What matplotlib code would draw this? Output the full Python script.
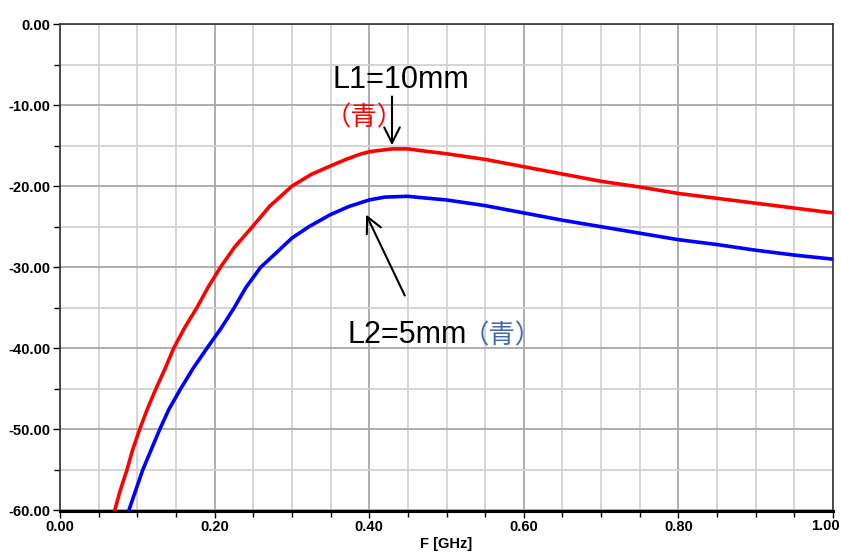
import numpy as np
import matplotlib.pyplot as plt
from matplotlib.ticker import MultipleLocator, FuncFormatter

# S-parameter curves
freq_l1 = [0.0707, 0.078, 0.0866, 0.094, 0.103, 0.113, 0.124, 0.136, 0.147, 0.161,
           0.177, 0.1914, 0.2076, 0.226, 0.249, 0.271, 0.30, 0.325, 0.35, 0.37,
           0.387, 0.40, 0.43, 0.45, 0.4657, 0.50, 0.55, 0.60, 0.65,
           0.70, 0.75, 0.80, 0.85, 0.90, 0.95, 1.00]
db_l1 = [-60, -57.5, -55, -52.5, -50, -47.5, -45, -42.5, -40, -37.5,
         -35, -32.5, -30, -27.5, -25, -22.5, -20.0, -18.55, -17.5, -16.7,
         -16.1, -15.75, -15.4, -15.4, -15.6, -16.0, -16.7, -17.6, -18.5,
         -19.4, -20.1, -20.9, -21.5, -22.1, -22.7, -23.3]

freq_l2 = [0.089, 0.098, 0.107, 0.118, 0.129, 0.141, 0.156, 0.172, 0.19, 0.2086,
           0.2253, 0.2405, 0.2596, 0.28, 0.30, 0.322, 0.35, 0.374, 0.40, 0.42,
           0.45, 0.4657, 0.50, 0.55, 0.60, 0.65,
           0.70, 0.75, 0.80, 0.85, 0.90, 0.95, 1.00]
db_l2 = [-60, -57.5, -55, -52.5, -50, -47.5, -45, -42.5, -40, -37.5,
         -35, -32.5, -30, -28.2, -26.4, -25.0, -23.5, -22.5, -21.7, -21.35,
         -21.25, -21.4, -21.7, -22.4, -23.3, -24.2,
         -25.0, -25.8, -26.6, -27.2, -27.9, -28.5, -29.0]

label_l1 = "L1=10mm"
label_l2 = "L2=5mm"
color_tag = "（青）"

plt.rcParams['font.family'] = ['Liberation Sans', 'Noto Sans CJK JP', 'DejaVu Sans']
tick_font = ['Liberation Sans Narrow', 'Liberation Sans', 'DejaVu Sans']

fig = plt.figure(figsize=(8.41, 5.55), dpi=100)
ax = fig.add_axes([60 / 841, (555 - 510.5) / 555, 773 / 841, 486.5 / 555])

ax.plot(freq_l1, db_l1, color='#ff0000', lw=2.6, solid_joinstyle='round', zorder=3)
ax.plot(freq_l2, db_l2, color='#0000ff', lw=2.6, solid_joinstyle='round', zorder=3)

ax.set_xlim(0, 1.0)
ax.set_ylim(-60, 0)
ax.xaxis.set_major_locator(MultipleLocator(0.2))
ax.xaxis.set_minor_locator(MultipleLocator(0.05))
ax.yaxis.set_major_locator(MultipleLocator(10))
ax.yaxis.set_minor_locator(MultipleLocator(5))
# the 1.00 label is drawn separately, shifted left so it stays inside the figure
ax.xaxis.set_major_formatter(FuncFormatter(lambda v, p: '' if v > 0.99 else f'{v:.2f}'))
ax.yaxis.set_major_formatter(FuncFormatter(lambda v, p: f'{v:.2f}'))

ax.grid(which='minor', color='#d2d2d2', lw=1.3)
ax.grid(which='major', color='#a8a8a8', lw=1.3)
ax.set_axisbelow(True)

ax.tick_params(which='both', direction='out', color='black', width=1.0)
ax.tick_params(which='major', length=5, pad=2)
ax.tick_params(which='minor', length=4)
for lab in ax.get_xticklabels() + ax.get_yticklabels():
    lab.set_family(tick_font)
    lab.set_fontweight('bold')
    lab.set_fontsize(10.5)

ax.annotate('1.00', xy=(1.0, 0), xycoords=('data', 'axes fraction'),
            xytext=(-8, -9), textcoords='offset pixels', ha='center', va='top',
            family=tick_font, fontweight='bold', fontsize=10.5, annotation_clip=False)

for side in ['top', 'right', 'left']:
    ax.spines[side].set_color('#333333')
    ax.spines[side].set_linewidth(1.2)
ax.spines['bottom'].set_color('black')
ax.spines['bottom'].set_linewidth(2.2)

ax.set_xlabel("F [GHz]", family=tick_font, fontweight='bold', fontsize=10.5, labelpad=2)

# annotations
ax.text(0.3525, -7.9, label_l1, fontsize=22, color='black', ha='left', va='baseline')
ax.text(0.342, -12.5, color_tag, fontsize=19, color='#ff0000', ha='left', va='baseline')
ax.annotate("", xy=(0.4295, -15.3), xytext=(0.4295, -8.6),
            arrowprops=dict(arrowstyle='->', color='black', lw=1.5, mutation_scale=28))

ax.annotate("", xy=(0.3945, -23.2), xytext=(0.4476, -33.8),
            arrowprops=dict(arrowstyle='->', color='black', lw=1.5, mutation_scale=28))
t2 = ax.text(0.372, -39.4, label_l2, fontsize=22, color='black', ha='left', va='baseline')
fig.canvas.draw()
bb = t2.get_window_extent()
x_end = ax.transData.inverted().transform((bb.x1 - 4, bb.y0))[0]
ax.text(x_end, -39.4, color_tag, fontsize=19, color='#3d6ca8', ha='left', va='baseline')

fig.savefig("out.png", dpi=100)
